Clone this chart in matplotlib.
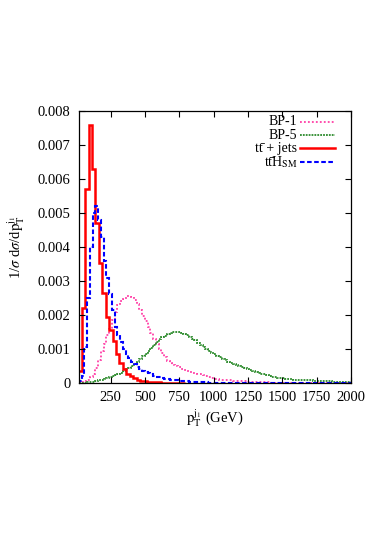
import numpy as np
import matplotlib
matplotlib.use("Agg")
import matplotlib.pyplot as plt

# ttbar + jets, 25 GeV bins starting at 15 GeV
red_start, red_width = 15, 25
ttjets = [0.00034, 0.0022, 0.0057, 0.0076, 0.0063, 0.0047, 0.00354, 0.00266, 0.00195,
          0.00156, 0.00124, 0.00085, 0.00059, 0.0004, 0.00027, 0.0002, 0.00014, 0.0001,
          0.00007, 0.00005, 0.00004, 0.00003, 0.00002, 0.00002, 0.00001, 0.00001, 0.00001,
          0.00001, 0.00001, 0.0, 0.0]

# the other three: 20 GeV bins starting at 20 GeV
fine_start, fine_width = 20, 20
ttH_sm = [0.00005, 0.00022, 0.00107, 0.0025, 0.004, 0.005, 0.0052, 0.0048, 0.0043, 0.0036,
          0.0031, 0.00263, 0.00215, 0.00166, 0.0014, 0.0012, 0.001, 0.00085, 0.00073, 0.00063,
          0.00055, 0.00048, 0.00042, 0.00036, 0.00032, 0.00028, 0.00025, 0.00022, 0.00019, 0.00017,
          0.00015, 0.00013, 0.00012, 0.0001, 0.00009, 0.00008, 0.00007, 0.00006, 0.00005, 0.00005,
          0.00004, 0.00004, 0.00003, 0.00003, 0.00002, 0.00002, 0.00002, 0.00001, 0.00001, 0.00001,
          0.0, 0.0, 0.0, 0.0, 0.0, 0.0, 0.0, 0.0, 0.0, 0.0,
          0.0, 0.0, 0.0, 0.0, 0.0, 0.0, 0.0, 0.0, 0.0, 0.0,
          0.0, 0.0, 0.0, 0.0, 0.0, 0.0, 0.0, 0.0, 0.0, 0.0,
          0.0, 0.0, 0.0, 0.0, 0.0, 0.0, 0.0, 0.0, 0.0, 0.0,
          0.0, 0.0, 0.0, 0.0, 0.0, 0.0, 0.0, 0.0, 0.0]

bp1 = [0.0, 0.00002, 0.00005, 0.0001, 0.00017, 0.00027, 0.00045, 0.00068, 0.00095, 0.00115,
       0.0014, 0.0016, 0.00185, 0.0021, 0.0023, 0.0024, 0.00248, 0.00255, 0.00256, 0.00252,
       0.00245, 0.00232, 0.00215, 0.00198, 0.00182, 0.00165, 0.00148, 0.0013, 0.00115, 0.001,
       0.00088, 0.00075, 0.00066, 0.00058, 0.00053, 0.00049, 0.00046, 0.00042, 0.00039, 0.00036,
       0.00032, 0.0003, 0.00028, 0.00026, 0.00025, 0.00023, 0.00021, 0.00018, 0.00015, 0.00013,
       0.00012, 0.0001, 0.0001, 0.00009, 0.00008, 0.00008, 0.00007, 0.00006, 0.00006, 0.00005,
       0.00005, 0.00004, 0.00004, 0.00003, 0.00003, 0.00003, 0.00002, 0.00002, 0.00002, 0.00002,
       0.00001, 0.00001, 0.00001, 0.00001, 0.00001, 0.00001, 0.00001, 0.0, 0.0, 0.0,
       0.0, 0.0, 0.0, 0.0, 0.0, 0.0, 0.0, 0.0, 0.0, 0.0,
       0.0, 0.0, 0.0, 0.0, 0.0, 0.0, 0.0, 0.0, 0.0]

bp5 = [0.0, 0.0, 0.00001, 0.00002, 0.00003, 0.00004, 0.00006, 0.00008, 0.0001, 0.00012,
       0.00015, 0.00018, 0.00021, 0.00024, 0.00027, 0.0003, 0.00035, 0.0004, 0.00045, 0.0005,
       0.00056, 0.00063, 0.0007, 0.00078, 0.00086, 0.00095, 0.00104, 0.00112, 0.0012, 0.00128,
       0.00134, 0.00139, 0.00144, 0.00147, 0.0015, 0.00151, 0.0015, 0.00148, 0.00144, 0.0014,
       0.00136, 0.0013, 0.00125, 0.00118, 0.00112, 0.00106, 0.001, 0.00094, 0.00089, 0.00084,
       0.0008, 0.00076, 0.00071, 0.00067, 0.00063, 0.00059, 0.00055, 0.00052, 0.00049, 0.00046,
       0.00043, 0.0004, 0.00037, 0.00034, 0.00031, 0.00029, 0.00027, 0.00025, 0.00023, 0.00021,
       0.00019, 0.00017, 0.00016, 0.00015, 0.00014, 0.00013, 0.00012, 0.00011, 0.0001, 0.0001,
       0.00009, 0.00009, 0.00008, 0.00008, 0.00008, 0.00007, 0.00007, 0.00006, 0.00006, 0.00005,
       0.00005, 0.00005, 0.00004, 0.00004, 0.00004, 0.00003, 0.00003, 0.00003, 0.00003]

xticks = [250, 500, 750, 1000, 1250, 1500, 1750, 2000]
yticks = [0, 0.001, 0.002, 0.003, 0.004, 0.005, 0.006, 0.007, 0.008]
ytick_labels = ["0", "0.001", "0.002", "0.003", "0.004", "0.005", "0.006", "0.007", "0.008"]

plt.rcParams['font.family'] = ['Liberation Serif', 'DejaVu Serif']
plt.rcParams['mathtext.fontset'] = 'stix'
plt.rcParams['font.size'] = 10.5

fig = plt.figure(figsize=(3.74, 5.34), dpi=100)
ax = fig.add_axes([0.211, 0.2828, 0.7275, 0.5092])

red_edges = red_start + red_width * np.arange(len(ttjets) + 1)
fine_edges = fine_start + fine_width * np.arange(len(bp1) + 1)

styles = [
    ('BP-1', bp1, fine_edges, dict(color='#ff3fa6', lw=1.3, ls=(0, (1, 1.2)))),
    ('BP-5', bp5, fine_edges, dict(color='#2b8a2b', lw=1.3, ls=(0, (1, 0.6)))),
    ('tt\u0304 + jets', ttjets, red_edges, dict(color='#ff0000', lw=1.8)),
    ('tt\u0304H$_{\\mathrm{SM}}$', ttH_sm, fine_edges, dict(color='#0000ff', lw=1.5, ls=(0, (2.2, 1.2)))),
]

# gnuplot-style key: label right-aligned, sample line on its right
key_y = [0.960, 0.911, 0.863, 0.812]
for (label, vals, edges, kw), ky in zip(styles, key_y):
    ax.stairs(vals, edges, **kw)
    ax.plot([0.812, 0.941], [ky, ky], transform=ax.transAxes, **kw)
    ax.text(0.803, ky, label, transform=ax.transAxes, ha='right', va='center', fontsize=10)

ax.set_xlim(20, 2000)
ax.set_ylim(0, 0.008)
ax.set_xticks(xticks)
ax.set_yticks(yticks)
ax.set_yticklabels(ytick_labels)
ax.tick_params(direction='in', top=True, right=True, length=4, width=0.8, pad=6)
for s in ax.spines.values():
    s.set_linewidth(0.9)

ax.set_xlabel(r'$\mathrm{p_T^{j_1}}$ (GeV)', labelpad=2)
ax.set_ylabel(r'1/$\sigma$ d$\sigma$/d$\mathrm{p_T^{j_1}}$', labelpad=8)

fig.savefig('out.png', dpi=100)
